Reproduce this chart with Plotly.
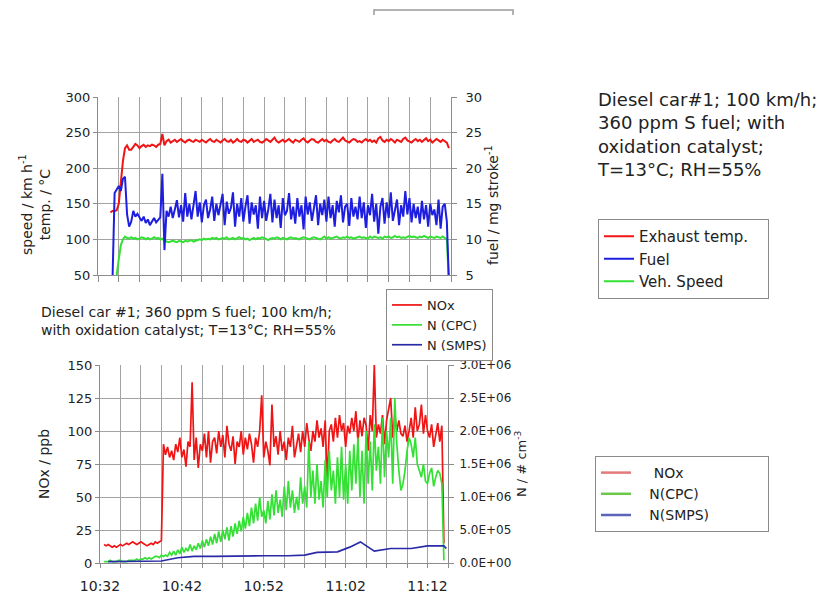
import numpy as np
import pandas as pd
import plotly.graph_objects as go

# ---------------- data ----------------
BASE = "2000-01-01 10:32:00"
T_END = "2000-01-01 11:14:30"
STEP_MIN = 0.25  # sampling step of the logged series, minutes

exhaust_start = 1.5
exhaust_temp = [
    138, 140,
    140, 141, 150, 185,
    210, 228, 232, 226,
    226, 230, 234, 232,
    228, 231, 233, 230,
    232, 231, 233, 232,
    230, 233, 234, 248,
    232, 238, 240, 236,
    238, 240, 237, 239,
    241, 238, 236, 239,
    240, 238, 237, 240,
    239, 237, 240, 238,
    236, 239, 241, 238,
    237, 240, 238, 236,
    239, 241, 238, 237,
    240, 236, 238, 241,
    238, 237, 240, 239,
    236, 238, 241, 237,
    239, 240, 237, 236,
    238, 241, 239, 237,
    240, 243, 238, 236,
    238, 240, 237, 239,
    241, 238, 236, 240,
    239, 237, 240, 242,
    238, 236, 239, 241,
    240, 237, 236, 239,
    241, 238, 240, 237,
    236, 239, 241, 238,
    237, 240, 243, 239,
    238, 236, 239, 241,
    240, 237, 238, 236,
    239, 241, 238, 240,
    237, 239, 236, 242,
    244, 239, 237, 240,
    238, 241, 239, 236,
    240, 238, 237, 241,
    243, 239, 238, 236,
    239, 241, 238, 240,
    237, 239, 242, 238,
    240, 236, 238, 241,
    239, 237, 240, 238,
    236, 228,
]

fuel_start = 1.75
fuel = [
    4.5,
    16.5, 17.0, 17.5, 16.8,
    18.5, 18.8, 13.5, 11.8,
    12.5, 14.0, 13.2, 13.6,
    13.0, 12.6, 13.2, 12.3,
    12.8, 12.0, 12.5, 13.0,
    12.4, 12.7, 13.1, 19.2,
    8.5, 14.0, 13.2, 14.6,
    13.0, 14.2, 15.5, 13.1,
    14.8, 12.5, 16.5, 13.2,
    15.0, 12.8, 14.6, 16.8,
    13.2, 15.2, 12.4, 14.8,
    15.6, 13.0, 14.2, 16.0,
    12.6, 15.0, 13.4, 14.7,
    16.4, 12.0, 15.3, 13.6,
    14.4, 16.6, 11.8, 15.0,
    13.2, 15.8, 12.5, 14.6,
    16.2, 12.2, 15.2, 13.5,
    14.8, 11.5, 16.0, 13.0,
    15.4, 12.6, 14.2, 16.4,
    12.4, 15.6, 13.0, 14.8,
    11.6, 15.8, 13.4, 14.0,
    16.5, 12.8, 14.6, 12.2,
    15.8, 13.2, 14.8, 11.4,
    16.0, 13.5, 15.2, 12.6,
    14.6, 16.2, 12.0, 15.0,
    13.4, 15.6, 12.5, 16.0,
    13.0, 14.8, 11.8, 15.4,
    13.8, 16.2, 12.4, 14.6,
    15.0, 11.9, 15.8, 13.2,
    14.6, 12.8, 16.0, 13.0,
    15.2, 11.6, 14.8, 13.4,
    16.4, 12.5, 15.0, 10.8,
    14.6, 15.8, 12.2, 15.2,
    13.0, 16.6, 12.6, 14.4,
    15.6, 12.0, 14.8, 13.2,
    16.8, 13.5, 15.8, 12.4,
    15.0, 13.0, 14.6, 12.2,
    15.4, 12.8, 14.8, 11.8,
    15.0, 13.4, 14.2, 12.0,
    15.6, 11.5, 14.6, 15.0,
    12.5, 4.0,
]

speed_start = 2.0
speed = [
    35, 50, 72, 92,
    100, 104, 102, 101,
    103, 101, 102, 100,
    101, 103, 102, 100,
    102, 100, 101, 103,
    101, 102, 100, 101,
    98, 97, 96, 97,
    98, 97, 96, 98,
    97, 96, 98, 97,
    98, 99, 97, 98,
    99, 100, 99, 101,
    100, 101, 100, 102,
    101, 102, 100, 101,
    102, 101, 103, 100,
    101, 102, 100, 102,
    103, 101, 102, 100,
    101, 99, 101, 102,
    100, 102, 101, 103,
    102, 100, 99, 101,
    102, 101, 103, 102,
    100, 102, 101, 100,
    102, 103, 101, 102,
    101, 100, 102, 103,
    102, 101, 100, 102,
    103, 102, 101, 100,
    102, 104, 101, 103,
    101, 102, 103, 104,
    102, 101, 103, 102,
    104, 102, 103, 101,
    102, 103, 104, 102,
    103, 102, 101, 104,
    102, 104, 103, 102,
    103, 101, 104, 103,
    104, 102, 103, 105,
    103, 104, 102, 103,
    102, 104, 105, 103,
    104, 103, 102, 104,
    103, 105, 104, 102,
    104, 103, 102, 104,
    103, 102, 104, 102,
    100, 40,
]

nox_start = 0.5
nox = [
    14, 13,
    14, 13, 12, 13,
    12, 13, 14, 13,
    14, 15, 14, 15,
    16, 15, 14, 15,
    16, 15, 14, 13,
    14, 15, 14, 16,
    15, 16, 17, 90,
    82, 88, 80, 85,
    78, 90, 84, 95,
    80, 86, 73, 92,
    88, 137, 78, 95,
    72, 90, 85, 98,
    80, 100, 76, 92,
    95, 83, 100, 88,
    97, 80, 104, 90,
    85, 96, 75, 92,
    88, 100, 82, 95,
    86, 98, 90, 76,
    95, 88, 100, 127,
    80, 92, 85, 74,
    120, 88, 96, 82,
    100, 85, 92, 78,
    95, 88, 104, 80,
    90, 98, 84, 100,
    88, 106, 94, 85,
    100, 92, 108, 95,
    102, 88, 108, 62,
    100, 105, 92, 110,
    95, 112, 100, 106,
    88, 104, 98, 110,
    100, 115, 92, 108,
    96, 110, 104, 85,
    112, 100, 150, 95,
    105, 98, 112, 90,
    108, 118, 125, 95,
    112, 100, 108, 98,
    96, 104, 92, 100,
    110, 95, 118, 100,
    105, 120, 98, 112,
    100, 95, 105, 88,
    98, 106, 92, 104,
    15,
]

cpc_start = 0.5
cpc = [v * 2.0e4 for v in [
    1, 1,
    1, 2, 1, 1,
    1, 2, 2, 1,
    1, 1, 2, 2,
    2, 2, 3, 2,
    3, 3, 4, 3,
    4, 3, 4, 5,
    5, 4, 6, 5,
    6, 5, 8, 6,
    9, 6, 10, 7,
    12, 8, 11, 9,
    14, 9, 13, 10,
    15, 11, 17, 12,
    18, 13, 20, 14,
    22, 15, 24, 16,
    25, 18, 27, 17,
    28, 20, 30, 22,
    32, 24, 35, 26,
    38, 28, 42, 30,
    45, 32, 50, 35,
    40, 30, 47, 33,
    52, 36, 55, 38,
    48, 35, 58, 40,
    62, 42, 55, 38,
    50, 40, 65, 45,
    58, 42, 92, 50,
    70, 45, 75, 48,
    62, 42, 78, 50,
    85, 55, 70, 45,
    80, 50, 88, 48,
    75, 45, 85, 55,
    90, 60, 95, 50,
    85, 45, 100, 60,
    92, 55, 105, 70,
    88, 60, 110, 65,
    100, 80, 110, 60,
    125, 90, 70, 55,
    60, 70, 85, 95,
    90, 80, 95, 75,
    70, 65, 75, 62,
    60, 68, 72, 58,
    65, 70, 68, 60,
    2,
]]

smps_min = [1.0, 4.0, 7.5, 9.5, 11.5, 14, 17, 20, 23, 25, 26.5, 29, 30.5, 31.8,
            33.5, 35.5, 38, 40, 42, 42.3]
smps = [v * 2.0e4 for v in [1, 1, 1.5, 4, 5, 5, 5.5, 5.5, 5.5, 6, 8, 8.5, 12, 16,
                             9, 11, 11, 13, 13, 11]]

N_TICKS = [0, 5e5, 1e6, 1.5e6, 2e6, 2.5e6, 3e6]
N_TICKTEXT = [f"{v:.1E}" for v in N_TICKS]


def times(start, n):
    return pd.Timestamp(BASE) + pd.to_timedelta(start + np.arange(n) * STEP_MIN, unit="min")


FONT = "DejaVu Sans"
GRID = "#a3a3a3"
AXL = "#8c8c8c"
TXT = "#222222"
RED = "#f01414"
GREEN = "#34e034"
BLUE = "#1e1ee0"
SMPS_BLUE = "#2a2aa8"
NB = "&nbsp;"

fig = go.Figure()

fig.add_trace(go.Scatter(x=times(exhaust_start, len(exhaust_temp)), y=exhaust_temp,
                         name="Exhaust temp." + NB * 3, mode="lines",
                         line=dict(color=RED, width=2),
                         xaxis="x", yaxis="y", legend="legend"))
fig.add_trace(go.Scatter(x=times(fuel_start, len(fuel)), y=fuel,
                         name="Fuel", mode="lines", line=dict(color=BLUE, width=2),
                         xaxis="x", yaxis="y2", legend="legend"))
fig.add_trace(go.Scatter(x=times(speed_start, len(speed)), y=speed,
                         name="Veh. Speed", mode="lines", line=dict(color=GREEN, width=2),
                         xaxis="x", yaxis="y", legend="legend"))

fig.add_trace(go.Scatter(x=times(nox_start, len(nox)), y=nox,
                         name="NOx", mode="lines", line=dict(color=RED, width=1.7),
                         xaxis="x2", yaxis="y3", legend="legend3"))
fig.add_trace(go.Scatter(x=times(cpc_start, len(cpc)), y=cpc,
                         name="N (CPC)", mode="lines", line=dict(color=GREEN, width=1.7),
                         xaxis="x2", yaxis="y4", legend="legend3"))
fig.add_trace(go.Scatter(x=pd.Timestamp(BASE) + pd.to_timedelta(smps_min, unit="min"), y=smps,
                         name="N (SMPS)", mode="lines", line=dict(color=SMPS_BLUE, width=1.7),
                         xaxis="x2", yaxis="y4", legend="legend3"))

for nm, col in [(NB * 4 + "NOx", "#e27a7a"), (NB * 3 + "N(CPC)", "#6cc84a"),
                (NB * 3 + "N(SMPS)" + NB * 12, "#5a64b8")]:
    fig.add_trace(go.Scatter(x=[None], y=[None], name=nm, mode="lines",
                             line=dict(color=col, width=2.5),
                             xaxis="x2", yaxis="y3", legend="legend2"))

W, H = 823, 596


def px(x):
    return x / W


def py(y):
    return 1 - y / H


tickfont = dict(family=FONT, size=13, color=TXT)
common_y = dict(showgrid=True, gridcolor=GRID, gridwidth=1, zeroline=False,
                showline=True, linecolor=AXL, linewidth=1, ticks="outside",
                ticklen=4, tickcolor=AXL, tickfont=tickfont)

fig.update_layout(
    width=W, height=H, margin=dict(l=0, r=0, t=0, b=0, autoexpand=False),
    paper_bgcolor="white", plot_bgcolor="white",
    font=dict(family=FONT, color=TXT),
    hovermode=False,
    xaxis=dict(domain=[px(98), px(451)], anchor="y", type="date",
               range=[BASE, T_END], tick0=BASE, dtick=150000,
               showticklabels=False, showgrid=True, gridcolor=GRID,
               ticks="outside", ticklen=6, tickcolor=AXL,
               showline=True, linecolor=AXL, zeroline=False),
    yaxis=dict(domain=[py(275), py(97)], anchor="x", range=[50, 300], dtick=50,
               **common_y),
    yaxis2=dict(overlaying="y", anchor="x", side="right", range=[5, 30], dtick=5,
                showgrid=False, zeroline=False, showline=True, linecolor=AXL,
                ticks="outside", ticklen=5, tickcolor=AXL, tickfont=tickfont,
                ticklabelstandoff=6),
    xaxis2=dict(domain=[px(100), px(448)], anchor="y3", type="date",
                range=[BASE, T_END], tick0=BASE, dtick=600000, tickformat="%H:%M",
                showgrid=True, gridcolor=GRID, ticks="outside", ticklen=4,
                tickcolor=AXL, showline=True, linecolor=AXL, zeroline=False,
                tickfont=dict(family=FONT, size=14, color=TXT), ticklabelstandoff=6,
                minor=dict(dtick=150000, tick0=BASE, showgrid=True, gridcolor=GRID,
                           ticks="outside", ticklen=4, tickcolor=AXL)),
    yaxis3=dict(domain=[py(563), py(365)], anchor="x2", range=[0, 150], dtick=25,
                **common_y),
    yaxis4=dict(overlaying="y3", anchor="x2", side="right", range=[0, 3e6],
                tickvals=N_TICKS, ticktext=N_TICKTEXT, showgrid=False,
                zeroline=False, showline=True, linecolor=AXL, ticks="outside",
                ticklen=5, tickcolor=AXL, tickfont=dict(family=FONT, size=12, color=TXT),
                ticklabelstandoff=3),
    legend=dict(x=px(598), y=py(219), xanchor="left", yanchor="top",
                bordercolor="#8a8a8a", borderwidth=1, bgcolor="white",
                font=dict(family=FONT, size=15, color=TXT), tracegroupgap=0),
    legend2=dict(x=px(595), y=py(456), xanchor="left", yanchor="top",
                 bordercolor="#8a8a8a", borderwidth=1, bgcolor="white",
                 font=dict(family=FONT, size=14, color=TXT), tracegroupgap=0),
    legend3=dict(x=px(386), y=py(289), xanchor="left", yanchor="top",
                 bordercolor="#8a8a8a", borderwidth=1, bgcolor="white",
                 font=dict(family=FONT, size=13, color=TXT), tracegroupgap=0),
)

ann = []
ann.append(dict(text="speed / km h<sup>-1</sup><br>temp. / °C", x=px(35), y=py(205),
                xref="paper", yref="paper", textangle=-90, showarrow=False,
                font=dict(family=FONT, size=14, color=TXT), xanchor="center", yanchor="middle"))
ann.append(dict(text="fuel / mg stroke<sup>-1</sup>", x=px(492), y=py(205),
                xref="paper", yref="paper", textangle=-90, showarrow=False,
                font=dict(family=FONT, size=14, color=TXT), xanchor="center", yanchor="middle"))
ann.append(dict(text="NOx / ppb", x=px(44), y=py(464),
                xref="paper", yref="paper", textangle=-90, showarrow=False,
                font=dict(family=FONT, size=14, color=TXT), xanchor="center", yanchor="middle"))
ann.append(dict(text="N / # cm<sup>-3</sup>", x=px(521), y=py(464),
                xref="paper", yref="paper", textangle=-90, showarrow=False,
                font=dict(family=FONT, size=13, color=TXT), xanchor="center", yanchor="middle"))
ann.append(dict(text="Diesel car #1; 360 ppm S fuel; 100 km/h;<br>with oxidation catalyst; T=13°C; RH=55%",
                x=px(39), y=py(302), xref="paper", yref="paper", showarrow=False,
                align="left", xanchor="left", yanchor="top",
                font=dict(family=FONT, size=14, color=TXT)))
ann.append(dict(text="Diesel car#1; 100 km/h;<br>360 ppm S fuel; with<br>oxidation catalyst;<br>T=13°C; RH=55%",
                x=px(595), y=py(87), xref="paper", yref="paper", showarrow=False,
                align="left", xanchor="left", yanchor="top",
                font=dict(family=FONT, size=18, color=TXT)))
fig.update_layout(annotations=ann)

fig.add_shape(type="path", xref="paper", yref="paper",
              path=f"M {px(374)} {py(15)} L {px(374)} {py(10)} L {px(513)} {py(10)} L {px(513)} {py(15)}",
              line=dict(color="#9a9a9a", width=1.5))

fig.write_html("out.html")
